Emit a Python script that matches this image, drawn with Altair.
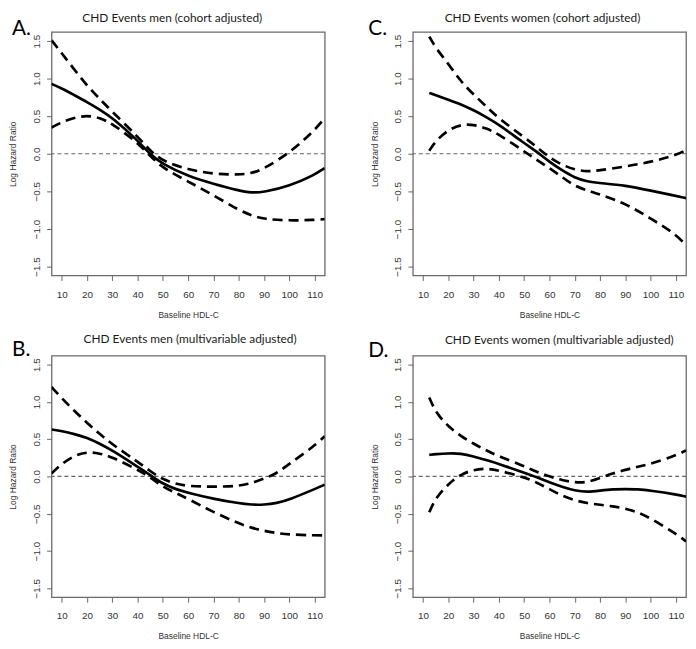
import altair as alt
import pandas as pd

# ---- axes ----
X_RANGE = [6, 114]
Y_RANGE = [-1.62, 1.62]
X_TICKS = [10, 20, 30, 40, 50, 60, 70, 80, 90, 100, 110]
Y_TICKS = [-1.5, -1.0, -0.5, 0.0, 0.5, 1.0, 1.5]

# ---- A: CHD Events men (cohort adjusted) ----
A_x = [6, 10, 15, 20, 25, 30, 40, 45, 50, 60, 70, 80, 85, 90, 100, 110, 114]
A_est = [0.93, 0.87, 0.78, 0.69, 0.59, 0.48, 0.18, -0.01, -0.14, -0.30, -0.40, -0.49, -0.52, -0.51, -0.43, -0.28, -0.19]
A_up = [1.51, 1.34, 1.12, 0.91, 0.73, 0.56, 0.23, 0.04, -0.10, -0.21, -0.27, -0.28, -0.26, -0.20, 0.01, 0.31, 0.48]
A_lo = [0.35, 0.42, 0.48, 0.51, 0.48, 0.40, 0.15, -0.03, -0.19, -0.37, -0.55, -0.75, -0.82, -0.87, -0.89, -0.88, -0.87]

# ---- C: CHD Events women (cohort adjusted) ----
C_x = [12.5, 15, 20, 25, 30, 35, 40, 50, 55, 60, 65, 70, 75, 80, 90, 100, 110, 114]
C_est = [0.81, 0.78, 0.72, 0.66, 0.58, 0.49, 0.39, 0.14, 0.03, -0.11, -0.22, -0.32, -0.37, -0.39, -0.42, -0.49, -0.56, -0.59]
C_up = [1.56, 1.41, 1.20, 0.96, 0.79, 0.63, 0.47, 0.22, 0.09, -0.05, -0.15, -0.21, -0.24, -0.22, -0.17, -0.11, -0.02, 0.05]
C_lo = [0.04, 0.17, 0.32, 0.39, 0.39, 0.34, 0.26, 0.03, -0.08, -0.19, -0.31, -0.43, -0.49, -0.54, -0.66, -0.86, -1.07, -1.22]

# ---- B: CHD Events men (multivariable adjusted) ----
B_x = [6, 10, 15, 20, 25, 30, 40, 45, 50, 55, 60, 70, 80, 85, 90, 95, 100, 110, 114]
B_est = [0.63, 0.61, 0.57, 0.52, 0.44, 0.35, 0.13, 0.02, -0.10, -0.17, -0.22, -0.30, -0.36, -0.38, -0.38, -0.36, -0.31, -0.17, -0.11]
B_up = [1.20, 1.05, 0.88, 0.72, 0.57, 0.43, 0.20, 0.07, -0.04, -0.10, -0.13, -0.14, -0.13, -0.09, -0.03, 0.04, 0.17, 0.41, 0.54]
B_lo = [0.04, 0.17, 0.28, 0.33, 0.31, 0.26, 0.09, -0.01, -0.14, -0.22, -0.30, -0.48, -0.63, -0.69, -0.73, -0.76, -0.78, -0.79, -0.79]

# ---- D: CHD Events women (multivariable adjusted) ----
D_x = [12.5, 15, 20, 25, 30, 35, 40, 50, 55, 60, 65, 70, 75, 80, 85, 90, 95, 100, 110, 114]
D_est = [0.29, 0.30, 0.31, 0.31, 0.27, 0.22, 0.17, 0.05, -0.01, -0.08, -0.14, -0.19, -0.21, -0.19, -0.17, -0.17, -0.17, -0.19, -0.24, -0.27]
D_up = [1.06, 0.86, 0.67, 0.54, 0.44, 0.35, 0.27, 0.14, 0.06, 0.00, -0.05, -0.08, -0.08, -0.02, 0.04, 0.09, 0.13, 0.17, 0.28, 0.35]
D_lo = [-0.48, -0.29, -0.10, 0.03, 0.09, 0.11, 0.08, -0.01, -0.08, -0.17, -0.26, -0.32, -0.36, -0.38, -0.40, -0.43, -0.48, -0.56, -0.77, -0.87]

W = 276


def panel(title, letter, xs, est, up, lo, letter_x, letter_y, title_dx, height):
    n = len(xs)
    df_est = pd.DataFrame({"x": xs, "y": est})
    df_ci = pd.DataFrame({"x": xs + xs, "y": up + lo,
                          "band": ["upper"] * n + ["lower"] * n})
    xs_scale = alt.Scale(domain=X_RANGE, nice=False, zero=False)
    ys_scale = alt.Scale(domain=Y_RANGE, nice=False, zero=False)
    x_axis = alt.Axis(values=X_TICKS, title="Baseline HDL-C", labelPadding=9,
                      titlePadding=11, labelFlush=False)
    y_axis = alt.Axis(values=Y_TICKS, format=".1f", title="Log Hazard Ratio",
                      labelAngle=270, labelAlign="center", labelBaseline="bottom",
                      labelPadding=5, titlePadding=14)
    X = alt.X("x:Q", scale=xs_scale, axis=x_axis)
    Y = alt.Y("y:Q", scale=ys_scale, axis=y_axis)

    est_line = alt.Chart(df_est).mark_line(
        color="black", strokeWidth=2.7, interpolate="basis", clip=True
    ).encode(x=X, y=Y)
    ci_line = alt.Chart(df_ci).mark_line(
        color="black", strokeWidth=2.7, strokeDash=[10, 6],
        interpolate="basis", clip=True
    ).encode(x=X, y=Y, detail="band:N")
    zero = alt.Chart(pd.DataFrame({"z": [0]})).mark_rule(
        color="#666666", strokeWidth=1.2, strokeDash=[4, 3]
    ).encode(y=alt.datum(0))
    lab = alt.Chart(pd.DataFrame({"t": [letter]})).mark_text(
        font="Lato", fontSize=21, color="black", align="left",
        baseline="alphabetic"
    ).encode(text="t:N", x=alt.value(letter_x), y=alt.value(letter_y))

    return alt.layer(zero, ci_line, est_line, lab).properties(
        width=W, height=height,
        title=alt.TitleParams(
            text=title, font="Lato", fontSize=12, fontWeight="normal",
            color="#1a1a1a", anchor="middle", frame="group", dx=title_dx,
            offset=-7
        ),
    )


pA = panel("CHD Events men (cohort adjusted)", "A.", A_x, A_est, A_up, A_lo, -40, 3, -16, 246)
pC = panel("CHD Events women (cohort adjusted)", "C.", C_x, C_est, C_up, C_lo, -45, 3, -7, 246)
pB = panel("CHD Events men (multivariable adjusted)", "B.", B_x, B_est, B_up, B_lo, -40, 0, 2, 244)
pD = panel("CHD Events women (multivariable adjusted)", "D.", D_x, D_est, D_up, D_lo, -45, 1, 10, 244)

top = alt.hconcat(pA, pC, spacing=41)
bottom = alt.hconcat(pB, pD, spacing=41)

chart = alt.vconcat(top, bottom, spacing=12).properties(
    padding={"left": 0, "top": 0, "right": 0, "bottom": 0}
).configure_view(
    stroke="#6a6a6a", strokeWidth=1.3
).configure_axis(
    labelFont="Liberation Sans", titleFont="Liberation Sans",
    labelFontSize=10, titleFontSize=8.5, titleFontWeight="normal",
    labelColor="#333333", titleColor="#333333", tickColor="#666666",
    tickSize=5, domain=False, grid=False
)

chart.save("out.html", embed_options={"renderer": "svg", "actions": False})
